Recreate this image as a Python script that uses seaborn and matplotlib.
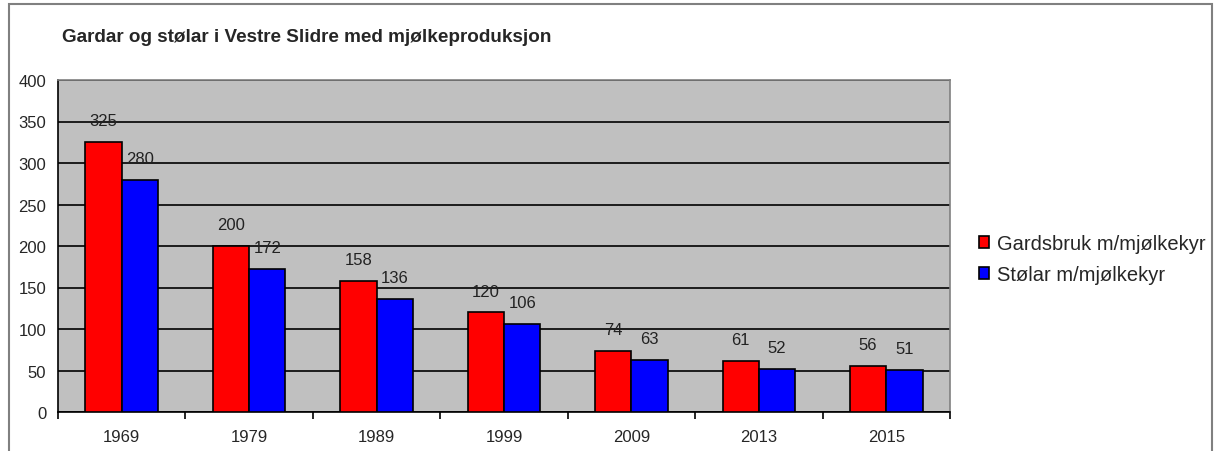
import pandas as pd
import matplotlib.pyplot as plt
import seaborn as sns
from matplotlib.patches import Rectangle

# Data
years = ["1969", "1979", "1989", "1999", "2009", "2013", "2015"]
gardsbruk = [325, 200, 158, 120, 74, 61, 56]
stolar = [280, 172, 136, 106, 63, 52, 51]
series_names = ["Gardsbruk m/mjølkekyr", "Stølar m/mjølkekyr"]
colors = ["#FF0000", "#0000FF"]

df = pd.DataFrame({
    "year": years * 2,
    "value": gardsbruk + stolar,
    "series": [series_names[0]] * len(years) + [series_names[1]] * len(years),
})

sns.set_style("white")
plt.rcParams['font.family'] = ['Liberation Sans', 'DejaVu Sans']

fig = plt.figure(figsize=(12.2, 4.52), dpi=100)
ax = fig.add_axes([58 / 1220, 1 - 413 / 452, (950 - 58) / 1220, (413 - 81) / 452])
ax.set_facecolor("#C0C0C0")

sns.barplot(data=df, x="year", y="value", hue="series", palette=colors,
            width=0.57, gap=0, edgecolor="black", linewidth=1.2,
            saturation=1, ax=ax, zorder=3)

for container in ax.containers:
    ax.bar_label(container, fmt="%d", padding=10, fontsize=12, color="#222222")

ax.set_ylim(0, 400)
ax.set_yticks(range(0, 401, 50))
ax.set_xlim(-0.5, len(years) - 0.5)
ax.yaxis.grid(True, color="black", linewidth=1.2, zorder=0)
ax.set_axisbelow(True)
ax.set_xlabel("")
ax.set_ylabel("")

# category separators as outward ticks
ax.set_xticks([i - 0.5 for i in range(len(years) + 1)], minor=True)
ax.tick_params(axis="x", which="minor", length=5, width=1.2, direction="out", color="black")
ax.tick_params(axis="x", which="major", length=0, labelsize=12, pad=12)
ax.tick_params(axis="y", which="major", length=5, width=1.2, direction="out",
               color="black", labelsize=12)
ax.tick_params(axis="x", which="minor", bottom=True)

for side in ["left", "bottom"]:
    ax.spines[side].set_color("black")
    ax.spines[side].set_linewidth(1.2)
for side in ["top", "right"]:
    ax.spines[side].set_color("#808080")
    ax.spines[side].set_linewidth(1.2)

handles, labels = ax.get_legend_handles_labels()
ax.legend(handles, labels, loc="center left", bbox_to_anchor=(961 / 1220, 1 - 260 / 452),
          bbox_transform=fig.transFigure, frameon=False, fontsize=14.5,
          handlelength=0.5, handleheight=0.5, handletextpad=0.4, labelspacing=0.6)

fig.text(62 / 1220, 1 - 38 / 452, "Gardar og stølar i Vestre Slidre med mjølkeproduksjon",
         fontsize=13.6, fontweight="bold", va="center", ha="left")

# outer chart frame
fig.patches.append(Rectangle((9 / 1220, -0.05), (1212 - 9) / 1220, 1 - 5 / 452 + 0.05,
                             transform=fig.transFigure, fill=False,
                             edgecolor="#808080", linewidth=1.5))

fig.savefig("out.png", dpi=100)
